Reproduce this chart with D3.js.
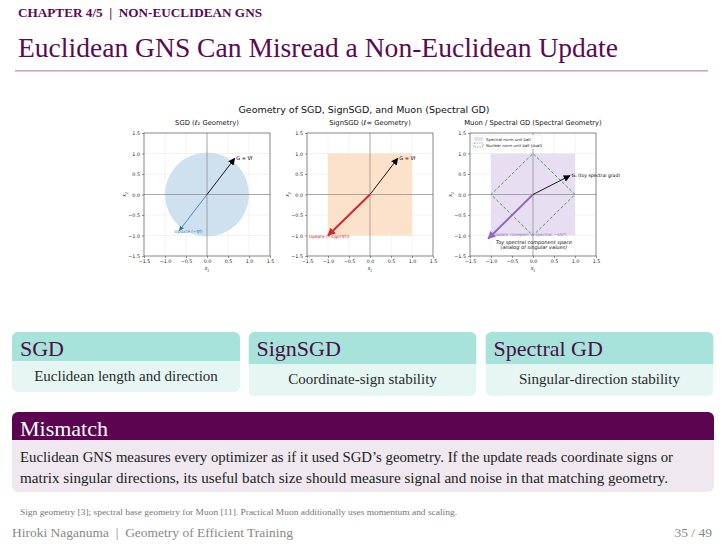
<!DOCTYPE html>
<html>
<head>
<meta charset="utf-8">
<script src="https://cdn.jsdelivr.net/npm/d3@7"></script>
<style>
  body { margin: 0; background: #fff; }
  svg { display: block; }
</style>
</head>
<body>
<div id="slide"></div>
<script>
////////////////////////////////////////////////////////////////////////
// Data

const chapterLabel = "CHAPTER 4/5  |  NON-EUCLIDEAN GNS";
const slideTitle = "Euclidean GNS Can Misread a Non-Euclidean Update";
const figureTitle = "Geometry of SGD, SignSGD, and Muon (Spectral GD)";
const panelTitles = ["SGD (ℓ₂ Geometry)", "SignSGD (ℓ∞ Geometry)", "Muon / Spectral GD (Spectral Geometry)"];
const axisTicks = [-1.5, -1.0, -0.5, 0.0, 0.5, 1.0, 1.5];

// vectors in (x1, x2)
const gradVec = [0.66, 0.88];
const sgdUpdate = [-0.66, -0.88];
const signUpdate = [-1.0, -1.0];
const spectralGrad = [0.88, 0.46];
const spectralUpdate = [-1.07, -1.08];

const linfBall = [[-1, -1], [1, -1], [1, 1], [-1, 1]];
const nuclearBall = [[1, 0], [0, 1], [-1, 0], [0, -1]];
const l2Radius = 1.0;

const cardHeads = ["SGD", "SignSGD", "Spectral GD"];
const cardBodies = ["Euclidean length and direction", "Coordinate-sign stability", "Singular-direction stability"];

const mismatchHead = "Mismatch";
const mismatchLines = [
  "Euclidean GNS measures every optimizer as if it used SGD’s geometry. If the update reads coordinate signs or",
  "matrix singular directions, its useful batch size should measure signal and noise in that matching geometry."
];
const footnote = "Sign geometry [3]; spectral base geometry for Muon [11]. Practical Muon additionally uses momentum and scaling.";
const footerLeft = "Hiroki Naganuma  |  Geometry of Efficient Training";
const footerRight = "35 / 49";

////////////////////////////////////////////////////////////////////////
// Slide frame

let W = 726, H = 544;
let serif = "'Liberation Serif', 'DejaVu Serif', serif";
let sans = "'DejaVu Sans', sans-serif";
let plum = "#5b0a52";

let svg = d3.select("#slide").append("svg").attr("width", W).attr("height", H);

svg.append("text").attr("x", 18).attr("y", 17)
  .style("font-family", serif).style("font-size", "12.5px").style("font-weight", "bold")
  .style("fill", plum).attr("xml:space", "preserve")
  .attr("textLength", 244).attr("lengthAdjust", "spacingAndGlyphs")
  .text(chapterLabel);

svg.append("text").attr("x", 18).attr("y", 57)
  .style("font-family", serif).style("font-size", "27px")
  .style("fill", plum).attr("textLength", 600).attr("lengthAdjust", "spacingAndGlyphs")
  .text(slideTitle);

svg.append("rect").attr("x", 15).attr("y", 70).attr("width", 693).attr("height", 1.6).style("fill", "#c9a6c6");

////////////////////////////////////////////////////////////////////////
// Figure: three geometry panels

svg.append("text").attr("x", 364).attr("y", 113).style("text-anchor", "middle")
  .style("font-family", sans).style("font-size", "9.5px").style("fill", "#111")
  .text(figureTitle);

let panelLeft = [144, 307, 470];
let panelW = 126, plotTop = 133, plotBottom = 256;

let defs = svg.append("defs");
function marker(id, color, size) {
  defs.append("marker").attr("id", id)
    .attr("viewBox", "0 0 10 10").attr("refX", 9).attr("refY", 5)
    .attr("markerWidth", size).attr("markerHeight", size).attr("markerUnits", "userSpaceOnUse")
    .attr("orient", "auto")
    .append("path").attr("d", "M0,0 L10,5 L0,10 z").style("fill", color);
}
marker("headBlack", "#000", 7);
marker("headBlue", "#1f77b4", 5);
marker("headRed", "#d62728", 8);
marker("headPurple", "#9467bd", 8);

let panels = panelLeft.map(function(x0, i) {
  let xs = d3.scaleLinear().domain([-1.5, 1.5]).range([x0, x0 + panelW]);
  let ys = d3.scaleLinear().domain([-1.5, 1.5]).range([plotBottom, plotTop]);
  let g = svg.append("g").attr("class", "panel");

  // subtitle
  g.append("text").attr("x", xs(0)).attr("y", 125).style("text-anchor", "middle")
    .style("font-family", sans).style("font-size", "6.8px").style("fill", "#111")
    .text(panelTitles[i]);

  // grid
  g.selectAll(".gx").data(axisTicks).enter().append("line")
    .attr("x1", d => xs(d)).attr("x2", d => xs(d)).attr("y1", plotTop).attr("y2", plotBottom)
    .style("stroke", "#e4e4e4").style("stroke-width", 0.5);
  g.selectAll(".gy").data(axisTicks).enter().append("line")
    .attr("y1", d => ys(d)).attr("y2", d => ys(d)).attr("x1", x0).attr("x2", x0 + panelW)
    .style("stroke", "#e4e4e4").style("stroke-width", 0.5);

  return { g: g, xs: xs, ys: ys, x0: x0 };
});

let lineGen = function(p) { return d3.line().x(d => p.xs(d[0])).y(d => p.ys(d[1])); };

// SGD: l2 ball
let p0 = panels[0];
p0.g.append("circle").attr("cx", p0.xs(0)).attr("cy", p0.ys(0))
  .attr("r", p0.xs(l2Radius) - p0.xs(0))
  .style("fill", "#cfe0ef");

// SignSGD: linf ball
let p1 = panels[1];
p1.g.append("path").attr("d", lineGen(p1)(linfBall) + "Z").style("fill", "#fde2cb");

// Spectral: spectral ball + nuclear ball
let p2 = panels[2];
p2.g.append("path").attr("d", lineGen(p2)(linfBall) + "Z").style("fill", "#e7def1");
p2.g.append("path").attr("d", lineGen(p2)(nuclearBall) + "Z")
  .style("fill", "none").style("stroke", "#3d8f3d").style("stroke-width", 0.9)
  .style("stroke-dasharray", "3,2");

// zero axes, spines and ticks
panels.forEach(function(p) {
  let g = p.g;
  g.append("line").attr("x1", p.xs(0)).attr("x2", p.xs(0)).attr("y1", plotTop).attr("y2", plotBottom)
    .style("stroke", "#777").style("stroke-width", 0.6);
  g.append("line").attr("x1", p.x0).attr("x2", p.x0 + panelW).attr("y1", p.ys(0)).attr("y2", p.ys(0))
    .style("stroke", "#777").style("stroke-width", 0.6);

  let ax = g.append("g").attr("transform", "translate(0," + plotBottom + ")")
    .call(d3.axisBottom(p.xs).tickValues(axisTicks).tickSize(2).tickPadding(1.5)
      .tickFormat(d => d3.format(".1f")(d).replace("-", "−")));
  let ay = g.append("g").attr("transform", "translate(" + p.x0 + ",0)")
    .call(d3.axisLeft(p.ys).tickValues(axisTicks).tickSize(2).tickPadding(2)
      .tickFormat(d => d3.format(".1f")(d).replace("-", "−")));
  [ax, ay].forEach(function(a) {
    a.select(".domain").remove();
    a.selectAll("text").style("font-family", sans).style("font-size", "4.8px").style("fill", "#222");
    a.selectAll("line").style("stroke", "#333").style("stroke-width", 0.5);
  });

  g.append("rect").attr("x", p.x0).attr("y", plotTop).attr("width", panelW).attr("height", plotBottom - plotTop)
    .style("fill", "none").style("stroke", "#444").style("stroke-width", 0.6);

  g.append("text").attr("x", p.xs(0)).attr("y", plotBottom + 14).style("text-anchor", "middle")
    .style("font-family", serif).style("font-style", "italic").style("font-size", "6px").style("fill", "#222")
    .html("x<tspan dy='1.5' font-size='4px'>1</tspan>");
  g.append("text").attr("transform", "translate(" + (p.x0 - 18) + "," + p.ys(0) + ") rotate(-90)")
    .style("text-anchor", "middle")
    .style("font-family", serif).style("font-style", "italic").style("font-size", "6px").style("fill", "#222")
    .html("x<tspan dy='1.5' font-size='4px'>2</tspan>");
});

// arrows
function arrow(p, vec, color, width, head) {
  p.g.append("line")
    .attr("x1", p.xs(0)).attr("y1", p.ys(0)).attr("x2", p.xs(vec[0])).attr("y2", p.ys(vec[1]))
    .style("stroke", color).style("stroke-width", width)
    .attr("marker-end", "url(#" + head + ")");
}
function label(p, vec, dx, dy, txt, color, size, style) {
  return p.g.append("text").attr("x", p.xs(vec[0]) + dx).attr("y", p.ys(vec[1]) + dy)
    .style("font-family", sans).style("font-size", size + "px").style("fill", color)
    .style("font-style", style || "normal")
    .text(txt);
}

arrow(p0, gradVec, "#000", 0.9, "headBlack");
label(p0, gradVec, 1.5, 1.5, "G = ∇f", "#000", 5);
arrow(p0, sgdUpdate, "#1f77b4", 0.8, "headBlue");
label(p0, sgdUpdate, -5, 2, "Update (−∇f)", "#1f77b4", 4.3);

arrow(p1, gradVec, "#000", 0.9, "headBlack");
label(p1, gradVec, 1.5, 1.5, "G = ∇f", "#000", 5);
arrow(p1, signUpdate, "#d62728", 2, "headRed");
label(p1, signUpdate, -19, 2.5, "Update (−sign(∇f))", "#d62728", 4.3);

arrow(p2, spectralGrad, "#000", 0.9, "headBlack");
label(p2, spectralGrad, 1.5, 1, "G\u209B (toy spectral grad)", "#000", 4.5);
arrow(p2, spectralUpdate, "#9467bd", 2, "headPurple");
label(p2, [-1.0, -1.0], 2.5, 0.8, "Update (steepest in spectral, −UVᵀ)", "#9467bd", 4.1);
p2.g.append("text").attr("x", p2.xs(0.02)).attr("y", p2.ys(-1.2))
  .style("text-anchor", "middle").style("font-family", sans).style("font-style", "italic")
  .style("font-size", "5px").style("fill", "#111")
  .text("Toy spectral component space");
p2.g.append("text").attr("x", p2.xs(0.02)).attr("y", p2.ys(-1.34))
  .style("text-anchor", "middle").style("font-family", sans).style("font-style", "italic")
  .style("font-size", "5px").style("fill", "#111")
  .text("(analog of singular values)");

// legend
let lg = p2.g.append("g").attr("transform", "translate(" + (p2.x0 + 2) + "," + (plotTop + 2) + ")");
lg.append("rect").attr("width", 70).attr("height", 14).attr("rx", 1)
  .style("fill", "#fff").style("fill-opacity", 0.85).style("stroke", "#ddd").style("stroke-width", 0.4);
lg.append("rect").attr("x", 2).attr("y", 2).attr("width", 9).attr("height", 4).style("fill", "#e7def1");
lg.append("rect").attr("x", 2).attr("y", 8).attr("width", 9).attr("height", 4)
  .style("fill", "none").style("stroke", "#3d8f3d").style("stroke-width", 0.6).style("stroke-dasharray", "1.5,1");
lg.append("text").attr("x", 14).attr("y", 5.6).style("font-family", sans).style("font-size", "3.9px").style("fill", "#222")
  .text("Spectral norm unit ball");
lg.append("text").attr("x", 14).attr("y", 11.6).style("font-family", sans).style("font-size", "3.9px").style("fill", "#222")
  .text("Nuclear norm unit ball (dual)");

////////////////////////////////////////////////////////////////////////
// Cards

let cardX = [12, 248.5, 485.5];
let cardW = 228;
let cardHeadBottom = [361, 364, 364];
let cardBottom = [392, 396, 396];

cardHeads.forEach(function(h, i) {
  let x = cardX[i], y = 332;
  let g = svg.append("g");
  let clip = "cardclip" + i;
  defs.append("clipPath").attr("id", clip).append("rect")
    .attr("x", x).attr("y", y).attr("width", cardW).attr("height", cardBottom[i] - y).attr("rx", 6);
  g.append("rect").attr("x", x).attr("y", y).attr("width", cardW).attr("height", cardBottom[i] - y)
    .attr("clip-path", "url(#" + clip + ")").style("fill", "#e5f6f3");
  g.append("rect").attr("x", x).attr("y", y).attr("width", cardW).attr("height", cardHeadBottom[i] - y)
    .attr("clip-path", "url(#" + clip + ")").style("fill", "#a8e3db");
  g.append("text").attr("x", x + 8).attr("y", y + 24)
    .style("font-family", serif).style("font-size", "22px").style("fill", "#4b0f48")
    .text(h);
  g.append("text").attr("x", x + cardW / 2).attr("y", cardHeadBottom[i] + 20)
    .style("text-anchor", "middle")
    .style("font-family", serif).style("font-size", "15px").style("fill", "#2a2a2a")
    .text(cardBodies[i]);
});

////////////////////////////////////////////////////////////////////////
// Mismatch block

defs.append("clipPath").attr("id", "mmclip").append("rect")
  .attr("x", 12).attr("y", 412).attr("width", 702).attr("height", 80).attr("rx", 6);
svg.append("rect").attr("x", 12).attr("y", 412).attr("width", 702).attr("height", 80)
  .attr("clip-path", "url(#mmclip)").style("fill", "#efe8ef");
svg.append("rect").attr("x", 12).attr("y", 412).attr("width", 702).attr("height", 28)
  .attr("clip-path", "url(#mmclip)").style("fill", "#5b0550");
svg.append("text").attr("x", 20).attr("y", 436)
  .style("font-family", serif).style("font-size", "22px").style("fill", "#fff")
  .text(mismatchHead);
svg.selectAll(".mmline").data(mismatchLines).enter().append("text")
  .attr("x", 20).attr("y", (d, i) => 462 + i * 21)
  .attr("textLength", (d, i) => i === 0 ? 653 : 648).attr("lengthAdjust", "spacingAndGlyphs")
  .style("font-family", serif).style("font-size", "15.5px").style("fill", "#222")
  .text(d => d);

////////////////////////////////////////////////////////////////////////
// Footnote and footer

svg.append("text").attr("x", 20).attr("y", 515)
  .attr("textLength", 437).attr("lengthAdjust", "spacingAndGlyphs")
  .style("font-family", serif).style("font-size", "8.5px").style("fill", "#777")
  .text(footnote);
svg.append("text").attr("x", 12).attr("y", 537).attr("xml:space", "preserve")
  .attr("textLength", 281).attr("lengthAdjust", "spacingAndGlyphs")
  .style("font-family", serif).style("font-size", "13.5px").style("fill", "#888")
  .text(footerLeft);
svg.append("text").attr("x", 712).attr("y", 537).style("text-anchor", "end")
  .style("font-family", serif).style("font-size", "13.5px").style("fill", "#888")
  .text(footerRight);
</script>
</body>
</html>
